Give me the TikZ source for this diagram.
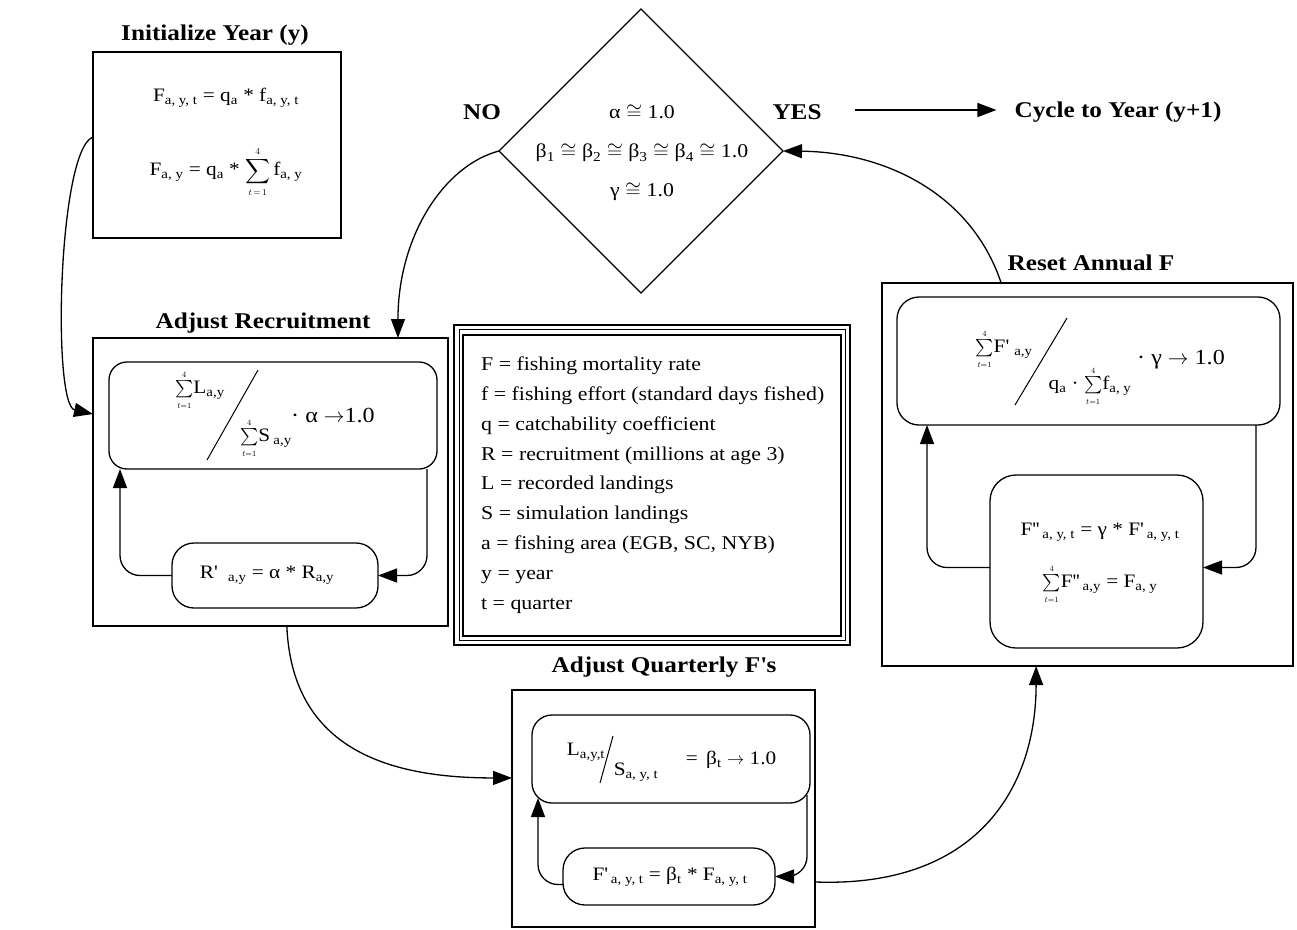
\documentclass[tikz,border=0pt]{standalone}
\usepackage{amsmath}
\usepackage{fontspec}
\setmainfont{Liberation Serif}[FakeStretch=1.12]
\usetikzlibrary{arrows.meta,shapes.geometric,calc}
\newcommand\sbb[1]{\textsubscript{#1}}
\newcommand\pr{\textquotesingle}
\newcommand\tsum{\mbox{\fontsize{16}{16}\selectfont$\sum\limits_{\scriptscriptstyle t=1}^{\scriptscriptstyle 4}$}}
\begin{document}
\begin{tikzpicture}[x=1pt,y=-1pt,
  box/.style={draw, line width=1.3pt, inner sep=0pt, outer sep=0pt},
  rbox/.style={draw, line width=1.3pt, inner sep=0pt, outer sep=0pt, rounded corners=#1},
  rbox/.default=18pt,
  ttl/.style={font=\fontsize{22.5}{24}\selectfont\bfseries, inner sep=0pt},
  fml/.style={font=\fontsize{19}{21}\selectfont, inner sep=0pt},
  bfml/.style={font=\fontsize{21.5}{23}\selectfont, inner sep=0pt},
  arr/.style={-{Triangle[length=19pt,width=14pt]}, line width=1.3pt},
  lp/.style={arr, rounded corners=20pt}
]
\useasboundingbox (0,0) rectangle (1297,929);

% ---------- Initialize ----------
\node[ttl] (tinit) at (215,35) {Initialize Year (y)};
\node[box, minimum width=248pt, minimum height=186pt] (init) at (217,145) {};
\node[fml] (i1) at (226,98) {F\sbb{a, y, t} = q\sbb{a} * f\sbb{a, y, t}};
\node[fml] (i2) at (226,172) {F\sbb{a, y} = q\sbb{a} * $\displaystyle\sum_{\scriptscriptstyle t\,=\,1}^{\scriptscriptstyle 4}$\,f\sbb{a, y}};

% ---------- Diamond ----------
\node[draw, diamond, aspect=1, line width=1.3pt, minimum width=284pt, minimum height=284pt, inner sep=0pt, outer sep=0pt] (dia) at (641,151) {};
\node[font=\fontsize{19.5}{39}\selectfont, align=center, inner sep=0pt] (dtext) at (642,153)
  {α $\cong$ 1.0\\ β\sbb{1} $\cong$ β\sbb{2} $\cong$ β\sbb{3} $\cong$ β\sbb{4} $\cong$ 1.0\\ γ $\cong$ 1.0};
\node[ttl] (no) at (482,112) {NO};
\node[ttl] (yes) at (797,112) {YES};
\node[ttl] (cycle) at (1118,112) {Cycle to Year (y+1)};
\coordinate (cyc0) at (855,110);
\draw[arr] (cyc0) -- ($(cycle.west)+(-18,-2)$);

% ---------- Adjust Recruitment ----------
\node[ttl] (trec) at (263,323) {Adjust Recruitment};
\node[box, minimum width=355pt, minimum height=288pt] (rec) at (270.5,482) {};
\node[rbox=18pt, minimum width=328pt, minimum height=107pt] (ru) at (273,415.5) {};
\node[rbox=22pt, minimum width=206pt, minimum height=65pt] (rl) at (275,575.5) {};
\node[fml] (rnum) at (200,390) {\tsum L\sbb{a,y}};
\coordinate (rs1) at (258,370);
\coordinate (rs2) at (207,460);
\draw[line width=1pt] (rs1) -- (rs2);
\node[fml] (rden) at (266,438) {\tsum S\,\sbb{a,y}};
\node[bfml] (rtail) at (333,415) {· α $\rightarrow$1.0};
\node[fml] (rlt) at (267,575) {R\pr\ \ \sbb{a,y} = α * R\sbb{a,y}};
\draw[lp] (rl.west) -| ($(ru.south west)+(11,0)$);
\draw[lp] ($(ru.south east)+(-10,0)$) |- (rl.east);

% ---------- Legend ----------
\node[draw, line width=2.6pt, minimum width=396pt, minimum height=320pt, inner sep=0pt] (leg) at (652,485) {};
\node[draw, line width=0.8pt, minimum width=386pt, minimum height=311pt, inner sep=0pt] (leg2) at (652,485) {};
\node[draw, line width=1.3pt, minimum width=378pt, minimum height=301pt, inner sep=0pt] (leg3) at (652,485.5) {};
\node[font=\fontsize{19.5}{29.8}\selectfont, align=left, anchor=west, inner sep=0pt] (legt) at (481,485)
 {F = fishing mortality rate\\
  f = fishing effort (standard days fished)\\
  q = catchability coefficient\\
  R = recruitment (millions at age 3)\\
  L = recorded landings\\
  S = simulation landings\\
  a = fishing area (EGB, SC, NYB)\\
  y = year\\
  t = quarter};

% ---------- Reset Annual F ----------
\node[ttl] (treset) at (1091,263) {Reset Annual F};
\node[box, minimum width=411pt, minimum height=383pt] (reset) at (1087.5,474.5) {};
\node[rbox=22pt, minimum width=383pt, minimum height=128pt] (au) at (1088.5,361) {};
\node[rbox=26pt, minimum width=213pt, minimum height=173pt] (al) at (1096.5,561.5) {};
\node[fml] (fnum) at (1004,349) {\tsum F\pr\ \sbb{a,y}};
\coordinate (fs1) at (1067,318);
\coordinate (fs2) at (1015,405);
\draw[line width=1pt] (fs1) -- (fs2);
\node[fml] (fden) at (1090,386) {q\sbb{a} · \tsum f\sbb{a, y}};
\node[bfml] (ftail) at (1181,360) {· γ $\rightarrow$ 1.0};
\node[fml] (al1) at (1100,532) {F\pr\pr\,\sbb{a, y, t} = γ * F\pr\,\sbb{a, y, t}};
\node[fml] (al2) at (1100,584) {\tsum F\pr\pr\,\sbb{a,y} = F\sbb{a, y}};
\draw[lp] ($(al.west)+(0,6)$) -| ($(au.south west)+(30,0)$);
\draw[lp] ($(au.south east)+(-24,0)$) |- ($(al.east)+(0,6)$);

% ---------- Adjust Quarterly F's ----------
\node[ttl] (tq) at (664,667) {Adjust Quarterly F\pr s};
\node[box, minimum width=303pt, minimum height=237pt] (quart) at (663.5,808.5) {};
\node[rbox=20pt, minimum width=278pt, minimum height=88pt] (qu) at (671,759) {};
\node[rbox=22pt, minimum width=212pt, minimum height=57pt] (ql) at (669,876.5) {};
\node[fml] (qnum) at (586,752) {L\sbb{a,y,t}};
\coordinate (qs1) at (613,736);
\coordinate (qs2) at (600,783);
\draw[line width=1pt] (qs1) -- (qs2);
\node[fml] (qden) at (636,772) {S\sbb{a, y, t}};
\node[fml] (qtail) at (731,760) {=\, β\sbb{t} $\rightarrow$ 1.0};
\node[fml] (qlt) at (670,877) {F\pr\,\sbb{a, y, t} = β\sbb{t} * F\sbb{a, y, t}};
\draw[lp] ($(ql.west)+(0,8)$) -| ($(qu.south west)+(6,-5)$);
\draw[lp] ($(qu.south east)+(-3,-8)$) |- (ql.east);

% ---------- Connectors between stages ----------
\draw[arr] ($(init.north west)!0.457!(init.south west)$)
   .. controls (58,150) and (52,405) .. ($(rec.north west)!0.264!(rec.south west)$);
\draw[arr] (dia.west) .. controls (445,165) and (398,235) .. ($(rec.north west)!0.859!(rec.north east)$);
\draw[arr] ($(rec.south west)!0.546!(rec.south east)$)
   .. controls (292,750) and (390,778) .. ($(quart.north west)!0.371!(quart.south west)$);
\draw[arr] ($(quart.north east)!0.81!(quart.south east)$)
   .. controls (975,888) and (1036,790) .. ($(reset.south west)!0.375!(reset.south east)$);
\draw[arr] ($(reset.north west)!0.29!(reset.north east)$)
   .. controls (970,190) and (880,152) .. (dia.east);
\end{tikzpicture}
\end{document}
